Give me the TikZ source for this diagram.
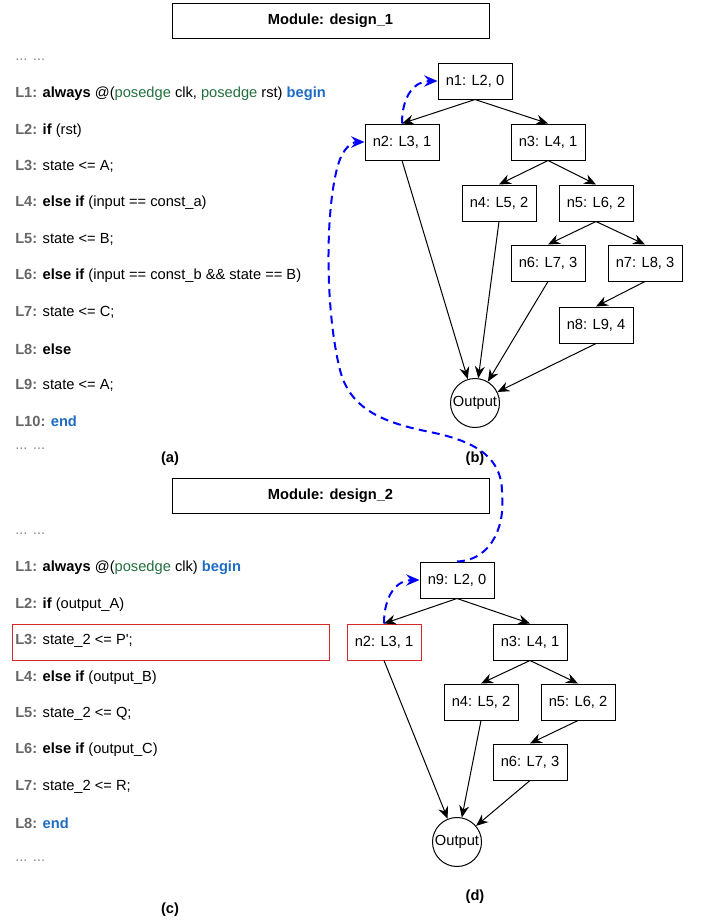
\documentclass[tikz,border=0pt]{standalone}
\usepackage{fontspec}
\setmainfont{Liberation Sans}
\usetikzlibrary{arrows.meta,positioning}

\definecolor{lgray}{RGB}{102,102,102}
\definecolor{dgray}{RGB}{140,140,140}
\definecolor{kgreen}{RGB}{35,112,62}
\definecolor{kblue}{RGB}{30,108,196}
\definecolor{hred}{RGB}{214,40,40}

\newcommand{\lno}[1]{\textcolor{lgray}{\textbf{#1}}}
\newcommand{\kw}[1]{\textbf{#1}}
\newcommand{\pe}[1]{\textcolor{kgreen}{#1}}
\newcommand{\bk}[1]{\textcolor{kblue}{\textbf{#1}}}
\newcommand{\skipline}{\textcolor{dgray}{... ...}}

\tikzset{
  stmt/.style={draw, line width=0.75pt, minimum width=55.5pt, minimum height=27pt, inner sep=1pt},
  outnode/.style={draw, line width=0.75pt, circle, minimum size=36.75pt, inner sep=0pt},
  titlebox/.style={draw, line width=0.75pt, minimum width=237.75pt, minimum height=26.25pt, font=\fontsize{11}{13}\selectfont\bfseries},
  code/.style={anchor=west, inner sep=0pt},
  caption/.style={font=\fontsize{11}{13}\selectfont\bfseries},
  flow/.style={line width=0.75pt, -{Stealth[length=9pt,width=7.5pt,inset=3pt]}},
  link/.style={blue, line width=1.5pt, dash pattern=on 6pt off 4pt, -{Stealth[length=10pt,width=8.5pt,inset=3.5pt]}}
}

\begin{document}
\begin{tikzpicture}[x=0.75pt, y=-0.75pt, font=\fontsize{11}{13}\selectfont]
    \useasboundingbox (0,0) rectangle (702,922);

    % Titles
    \node[titlebox] (title1) at (330.5,20.5) {Module: design\_1};
    \node[titlebox] (title2) at (330.5,495.5) {Module: design\_2};

    % Code of design_1
    \node[code] (a0) at (15,60) {\skipline};
    \node[code] (a1) at (15,94) {\lno{L1:} \kw{always} @(\pe{posedge} clk, \pe{posedge} rst) \bk{begin}};
    \node[code] (a2) at (15,130.4) {\lno{L2:} \kw{if} (rst)};
    \node[code] (a3) at (15,166.8) {\lno{L3:} state <= A;};
    \node[code] (a4) at (15,203.2) {\lno{L4:} \kw{else if} (input == const\_a)};
    \node[code] (a5) at (15,239.6) {\lno{L5:} state <= B;};
    \node[code] (a6) at (15,276) {\lno{L6:} \kw{else if} (input == const\_b \&\& state == B)};
    \node[code] (a7) at (15,312.4) {\lno{L7:} state <= C;};
    \node[code] (a8) at (15,348.8) {\lno{L8:} \kw{else}};
    \node[code] (a9) at (15,385.2) {\lno{L9:} state <= A;};
    \node[code] (a10) at (15,421.6) {\lno{L10:} \bk{end}};
    \node[code] (a11) at (15,449) {\skipline};
    \node[caption] (capa) at (170,459) {(a)};

    % CFG of design_1
    \node[stmt] (tn1) at (475,81) {n1: L2, 0};
    \node[stmt] (tn2) at (402,142) {n2: L3, 1};
    \node[stmt] (tn3) at (548,142) {n3: L4, 1};
    \node[stmt] (tn4) at (499,203) {n4: L5, 2};
    \node[stmt] (tn5) at (596,203) {n5: L6, 2};
    \node[stmt] (tn6) at (548,263) {n6: L7, 3};
    \node[stmt] (tn7) at (645,263) {n7: L8, 3};
    \node[stmt] (tn8) at (596,325) {n8: L9, 4};
    \node[outnode] (tout) at (475,403) {Output};
    \node[caption] (capb) at (475,459) {(b)};

    \draw[flow] (tn1.south) -- (tn2.north);
    \draw[flow] (tn1.south) -- (tn3.north);
    \draw[flow] (tn3.south) -- (tn4.north);
    \draw[flow] (tn3.south) -- (tn5.north);
    \draw[flow] (tn5.south) -- (tn6.north);
    \draw[flow] (tn5.south) -- (tn7.north);
    \draw[flow] (tn7.south) -- (tn8.north);
    \draw[flow] (tn2.south) -- (tout);
    \draw[flow] (tn4.south) -- (tout);
    \draw[flow] (tn6.south) -- (tout);
    \draw[flow] (tn8.south) -- (tout);

    % Code of design_2
    \node[code] (c0) at (15,534) {\skipline};
    \node[code] (c1) at (15,568) {\lno{L1:} \kw{always} @(\pe{posedge} clk) \bk{begin}};
    \node[code] (c2) at (15,604.4) {\lno{L2:} \kw{if} (output\_A)};
    \node[code] (c3) at (15,640.8) {\lno{L3:} state\_2 <= P\textquotesingle;};
    \node[code] (c4) at (15,677.2) {\lno{L4:} \kw{else if} (output\_B)};
    \node[code] (c5) at (15,713.6) {\lno{L5:} state\_2 <= Q;};
    \node[code] (c6) at (15,750) {\lno{L6:} \kw{else if} (output\_C)};
    \node[code] (c7) at (15,786.4) {\lno{L7:} state\_2 <= R;};
    \node[code] (c8) at (15,822.8) {\lno{L8:} \bk{end}};
    \node[code] (c9) at (15,861) {\skipline};
    \node[caption] (capc) at (170,910) {(c)};

    % Highlight of the changed line
    \node[draw=hred, line width=0.75pt, minimum width=237.75pt, minimum height=27pt] (hl) at (170.5,642) {};

    % CFG of design_2
    \node[stmt] (bn9) at (457,580) {n9: L2, 0};
    \node[stmt, draw=hred] (bn2) at (384,642) {n2: L3, 1};
    \node[stmt] (bn3) at (530,642) {n3: L4, 1};
    \node[stmt] (bn4) at (481,702) {n4: L5, 2};
    \node[stmt] (bn5) at (578,702) {n5: L6, 2};
    \node[stmt] (bn6) at (530,762) {n6: L7, 3};
    \node[outnode] (bout) at (457,842) {Output};
    \node[caption] (capd) at (475,897) {(d)};

    \draw[flow] (bn9.south) -- (bn2.north);
    \draw[flow] (bn9.south) -- (bn3.north);
    \draw[flow] (bn3.south) -- (bn4.north);
    \draw[flow] (bn3.south) -- (bn5.north);
    \draw[flow] (bn5.south) -- (bn6.north);
    \draw[flow] (bn2.south) -- (bout);
    \draw[flow] (bn4.south) -- (bout);
    \draw[flow] (bn6.south) -- (bout);

    % Dashed links
    \draw[link] (tn2.north) .. controls (402,95) and (415,81) .. (tn1.west);
    \draw[link] (bn2.north) .. controls (384,595) and (397,580) .. (bn9.west);
    \draw[link] (bn9.north) .. controls (495,560) and (505,520) .. (502,495)
        .. controls (503,460) and (480,442) .. (430,432)
        .. controls (385,423) and (350,410) .. (340,370)
        .. controls (325,310) and (325,210) .. (338,165)
        .. controls (343,148) and (352,142) .. (tn2.west);
\end{tikzpicture}
\end{document}
